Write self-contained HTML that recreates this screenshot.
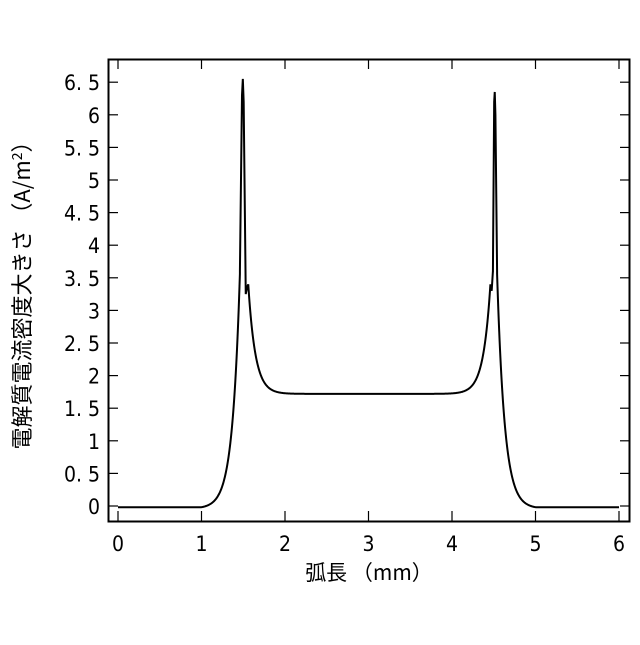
<!DOCTYPE html>
<html><head><meta charset="utf-8"><style>
html,body{margin:0;padding:0;background:#fff;}
svg text{font-family:"DejaVu Sans Condensed","Liberation Sans Narrow","Liberation Sans","Noto Sans CJK JP",sans-serif;fill:#000;}
</style></head><body>
<svg id="s" width="640" height="640" viewBox="0 0 640 640" xmlns="http://www.w3.org/2000/svg">
<rect x="0" y="0" width="640" height="640" fill="#fff"/>
<g id="ticks" stroke="#000" stroke-width="1.2"></g>
<g id="labels" font-size="21"></g>
<path id="curve" d="" fill="none" stroke="#000" stroke-width="2"/>
<rect x="108.5" y="59.5" width="521" height="462" fill="none" stroke="#000" stroke-width="2"/>
<text x="369" y="580" font-size="21" text-anchor="middle" style="font-family:'Noto Sans CJK JP',sans-serif">弧長 （mm）</text>
<text transform="translate(30,290) rotate(-90)" font-size="22" text-anchor="middle" style="font-family:'Noto Sans CJK JP',sans-serif">電解質電流密度大きさ （A/m<tspan font-size="14" dy="-8">2</tspan><tspan dy="8">）</tspan></text>
</svg>
<script>
var X=function(v){return 118+v*83.5;}, Y=function(v){return 506-v*65.2;};
var ns="http://www.w3.org/2000/svg", t=document.getElementById("ticks"), l=document.getElementById("labels");
function ln(a,b,c,d){var e=document.createElementNS(ns,"line");e.setAttribute("x1",a);e.setAttribute("y1",b);e.setAttribute("x2",c);e.setAttribute("y2",d);t.appendChild(e);}
function tx(x,y,s,anc){var e=document.createElementNS(ns,"text");e.setAttribute("x",x);e.setAttribute("y",y);e.setAttribute("text-anchor",anc);e.textContent=s;l.appendChild(e);}
for(var i=0;i<=6;i++){var x=X(i);ln(x,521,x,511);ln(x,59,x,69);tx(x,551,String(i),"middle");}
for(var k=0;k<=13;k++){var v=k*0.5,y=Y(v);ln(108,y,118,y);ln(630,y,620,y);tx(100,y+8,(k%2?v.toFixed(1).replace(".",". "):String(v)),"end");}
function lerp(pts,x){for(var i=0;i<pts.length-1;i++){if(x>=pts[i][0]&&x<=pts[i+1][0]){var f=(x-pts[i][0])/(pts[i+1][0]-pts[i][0]);return pts[i][1]+f*(pts[i+1][1]-pts[i][1]);}}return null;}
var L=[[1.46,3.6],[1.485,6.3],[1.495,6.55],[1.505,6.2],[1.53,3.25],[1.545,3.35],[1.56,3.4]];
var R=[[4.46,3.4],[4.475,3.3],[4.49,3.6],[4.505,6.2],[4.512,6.35],[4.52,6.0],[4.54,3.6]];
function f(x){
 if(x<1.0)return -0.02;
 if(x<1.46)return Math.max(-0.02,3.6*Math.exp((x-1.46)/0.09)-0.04);
 if(x<1.56)return lerp(L,x);
 if(x<3)return 1.72+1.68*Math.exp(-(x-1.56)/0.085);
 if(x<4.46)return 1.72+1.68*Math.exp((x-4.46)/0.085);
 if(x<4.54)return lerp(R,x);
 return Math.max(-0.02,3.6*Math.exp((4.54-x)/0.09)-0.04);
}
var xs=[],d="";
for(var x=0;x<=6.0001;x+=0.005)xs.push(x);
L.concat(R).forEach(function(p){xs.push(p[0]);});
xs.sort(function(a,b){return a-b;});
xs.forEach(function(x,i){d+=(i?"L":"M")+X(x).toFixed(2)+" "+Y(f(x)).toFixed(2);});
document.getElementById("curve").setAttribute("d",d);
</script>
</body></html>
